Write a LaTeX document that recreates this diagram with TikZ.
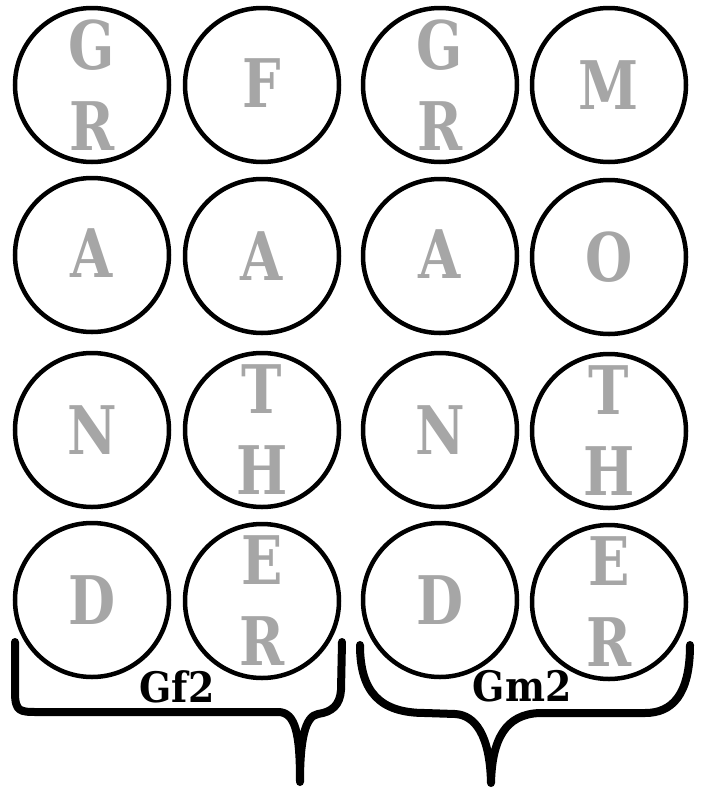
\documentclass[tikz,border=0pt]{standalone}
\usepackage{fontspec}
\newfontfamily\lettfont{DejaVu Serif Condensed Bold}
\newfontfamily\bigfont[FakeStretch=0.9]{DejaVu Serif Condensed Bold}
\definecolor{letgray}{HTML}{A6A6A6}
\begin{document}
\begin{tikzpicture}[x=1pt,y=-1pt,
  ring/.style={circle, draw, line width=4.5pt, minimum size=154pt, inner sep=0pt,
    text=letgray, font=\bigfont\fontsize{67}{81}\selectfont, align=center},
  brace/.style={line width=8pt, line cap=round, line join=round},
  lbl/.style={font=\lettfont\fontsize{42}{42}\selectfont, inner sep=0pt}]
\useasboundingbox (0,0) rectangle (702,793);
% row 1
\node[ring] (c11) at (92,85) {G\\R};
\node[ring] (c12) at (262,85) {\raisebox{4pt}{F}};
\node[ring] (c13) at (440,85) {G\\R};
\node[ring] (c14) at (609,85) {M};
% row 2
\node[ring] (c21) at (92,255) {\raisebox{4pt}{A}};
\node[ring] (c22) at (262,256) {A};
\node[ring] (c23) at (440,256) {\raisebox{3pt}{A}};
\node[ring] (c24) at (609,257) {O};
% row 3
\node[ring] (c31) at (92,430) {N};
\node[ring] (c32) at (262,430) {T\\H};
\node[ring] (c33) at (440,430) {N};
\node[ring] (c34) at (609,431) {T\\H};
% row 4
\node[ring] (c41) at (92,600) {D};
\node[ring] (c42) at (262,601) {E\\R};
\node[ring] (c43) at (440,600) {D};
\node[ring] (c44) at (609,602) {E\\R};
% braces
\draw[brace] (15,642) -- (15,692) .. controls (15,712) and (20,712) .. (38,712)
  -- (278,712) .. controls (296,712) and (300,735) .. (300,782)
  .. controls (300,740) and (305,716) .. (318,714)
  .. controls (332,712) and (340,705) .. (341,690) -- (342,642);
\draw[brace] (360,645) .. controls (360,692) and (380,713) .. (425,713)
  -- (455,714) .. controls (475,715) and (490,735) .. (491,783)
  .. controls (492,740) and (505,714) .. (540,713)
  -- (645,713) .. controls (672,713) and (690,695) .. (690,645);
% labels
\node[lbl] (gf) at (177,687) {Gf2};
\node[lbl] (gm) at (522,686) {Gm2};
\end{tikzpicture}
\end{document}
